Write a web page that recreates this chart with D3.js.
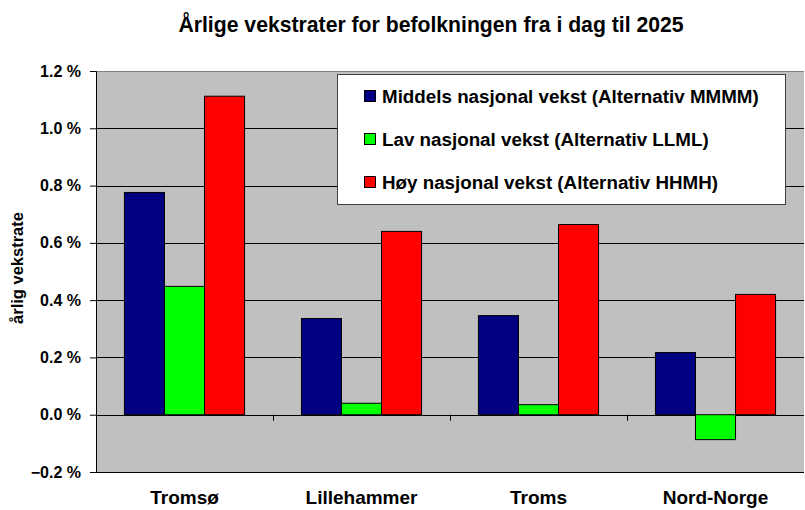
<!DOCTYPE html>
<html>
<head>
<meta charset="utf-8">
<script src="https://cdn.jsdelivr.net/npm/d3@7"></script>
<style>
  body { margin: 0; background: #fff; }
  text { font-family: "Liberation Sans", Arial, sans-serif; font-weight: bold; fill: #000; }
</style>
</head>
<body>
<svg id="chart" width="805" height="510"></svg>
<script>
// data
const categories = ['Tromsø', 'Lillehammer', 'Troms', 'Nord-Norge'];
const seriesNames = [
  'Middels nasjonal vekst (Alternativ MMMM)',
  'Lav nasjonal vekst (Alternativ LLML)',
  'Høy nasjonal vekst (Alternativ HHMH)'
];
const middels = [0.776, 0.336, 0.346, 0.217];
const lav = [0.448, 0.040, 0.035, -0.087];
const hoy = [1.112, 0.640, 0.664, 0.420];
const yTicks = [-0.2, 0, 0.2, 0.4, 0.6, 0.8, 1.0, 1.2];
const colors = ['#000080', '#00ff00', '#ff0000'];

const series = [middels, lav, hoy];

const svg = d3.select('#chart');
const margin = { left: 96, top: 71, right: 1, bottom: 38 };
const width = 805 - margin.left - margin.right;
const height = 510 - margin.top - margin.bottom;

const g = svg.append('g')
  .attr('transform', `translate(${margin.left},${margin.top})`);

const x0 = d3.scaleBand()
  .domain(categories)
  .range([0, width])
  .paddingInner(0)
  .paddingOuter(0);

const x1 = d3.scaleBand()
  .domain(d3.range(series.length))
  .range([0, x0.bandwidth()])
  .paddingInner(0)
  .paddingOuter(0.71);

const y = d3.scaleLinear()
  .domain([-0.2, 1.2])
  .range([height, 0]);

// plot area
g.append('rect')
  .attr('width', width)
  .attr('height', height)
  .attr('fill', '#c0c0c0');

// gridlines
g.selectAll('.grid')
  .data(yTicks)
  .enter().append('line')
  .attr('x1', 0)
  .attr('x2', width)
  .attr('y1', d => Math.round(y(d)) + 0.5)
  .attr('y2', d => Math.round(y(d)) + 0.5)
  .attr('stroke', d => d === 1.2 ? '#808080' : '#000')
  .attr('stroke-width', 1);

// bars
const groups = g.selectAll('.cat')
  .data(categories)
  .enter().append('g')
  .attr('transform', d => `translate(${x0(d)},0)`);

groups.selectAll('rect')
  .data((d, i) => series.map((s, k) => ({ k, v: s[i] })))
  .enter().append('rect')
  .attr('x', d => x1(d.k))
  .attr('width', x1.bandwidth())
  .attr('y', d => y(Math.max(0, d.v)))
  .attr('height', d => Math.abs(y(d.v) - y(0)))
  .attr('fill', d => colors[d.k])
  .attr('stroke', '#000')
  .attr('stroke-width', 1);

// y axis
const yAxis = d3.axisLeft(y)
  .tickValues(yTicks)
  .tickSize(6)
  .tickPadding(9)
  .tickFormat(d => d3.format('.1f')(d) + ' %');

g.append('g')
  .call(yAxis)
  .call(a => a.select('.domain').attr('stroke', '#000'))
  .call(a => a.selectAll('text')
    .style('font-family', '"Liberation Sans", Arial, sans-serif')
    .style('font-weight', 'bold')
    .style('font-size', '16px'));

// category separator ticks
g.selectAll('.sep')
  .data(categories.slice(1))
  .enter().append('line')
  .attr('x1', d => Math.round(x0(d)) + 0.5)
  .attr('x2', d => Math.round(x0(d)) + 0.5)
  .attr('y1', y(0))
  .attr('y2', y(0) + 6)
  .attr('stroke', '#000');

// category labels
g.selectAll('.cat-label')
  .data(categories)
  .enter().append('text')
  .attr('x', d => x0(d) + x0.bandwidth() / 2)
  .attr('y', height + 32)
  .attr('text-anchor', 'middle')
  .style('font-size', '19px')
  .text(d => d);

// y axis title
svg.append('text')
  .attr('transform', 'translate(23,268) rotate(-90)')
  .attr('text-anchor', 'middle')
  .style('font-size', '16.5px')
  .text('årlig vekstrate');

// title
svg.append('text')
  .attr('x', 431)
  .attr('y', 32)
  .attr('text-anchor', 'middle')
  .style('font-size', '21.2px')
  .text('Årlige vekstrater for befolkningen fra i dag til 2025');

// legend
const legend = svg.append('g').attr('transform', 'translate(337,74)');
legend.append('rect')
  .attr('x', 0.5).attr('y', 0.5)
  .attr('width', 448).attr('height', 130)
  .attr('fill', '#fff')
  .attr('stroke', '#404040');

const items = legend.selectAll('.item')
  .data(seriesNames)
  .enter().append('g')
  .attr('transform', (d, i) => `translate(27,${29 + i * 43})`);

items.append('rect')
  .attr('x', 0.5).attr('y', -12.5)
  .attr('width', 11).attr('height', 11)
  .attr('fill', (d, i) => colors[i])
  .attr('stroke', '#000');

items.append('text')
  .attr('x', 18)
  .attr('y', 0)
  .style('font-size', '18.8px')
  .text(d => d);
</script>
</body>
</html>
